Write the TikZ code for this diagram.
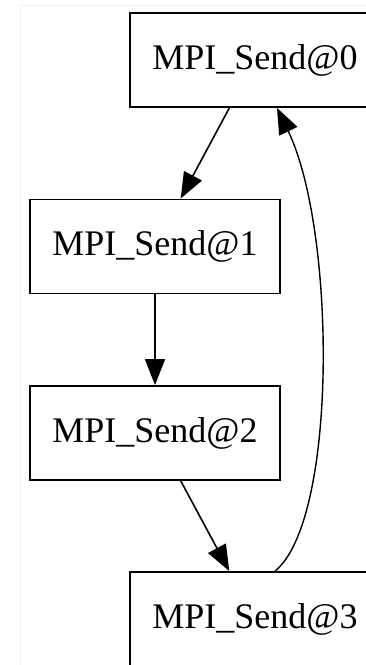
\documentclass[tikz,border=0pt]{standalone}
\usepackage{fontspec}
\setmainfont{Liberation Serif}
\usetikzlibrary{arrows.meta}

\begin{document}
\begin{tikzpicture}[x=1pt,y=-1pt,box/.style={draw,line width=1.8pt,minimum width=250pt,minimum height=94pt,inner sep=0pt,font=\fontsize{36}{40}\selectfont},
edge/.style={line width=1.6pt,-{Triangle[length=26pt,width=20pt]}}]
\useasboundingbox (0,0) rectangle (366,665);
\draw[black!6] (20,665) -- (20,5) -- (366,5);
\node [box] (send0) at (255,60) {MPI\_Send@0};
\node [box] (send1) at (155,246.5) {MPI\_Send@1};
\node [box] (send2) at (155,433) {MPI\_Send@2};
\node [box] (send3) at (255,619) {MPI\_Send@3};
\draw [edge] (send0) -- (send1);
\draw [edge] (send1) -- (send2);
\draw [edge] (send2) -- (send3);
\draw [edge,line width=1.4pt] ([xshift=20pt]send3.north) .. controls (338,520) and (336,230) .. ([xshift=22pt]send0.south);
\end{tikzpicture}
\end{document}
